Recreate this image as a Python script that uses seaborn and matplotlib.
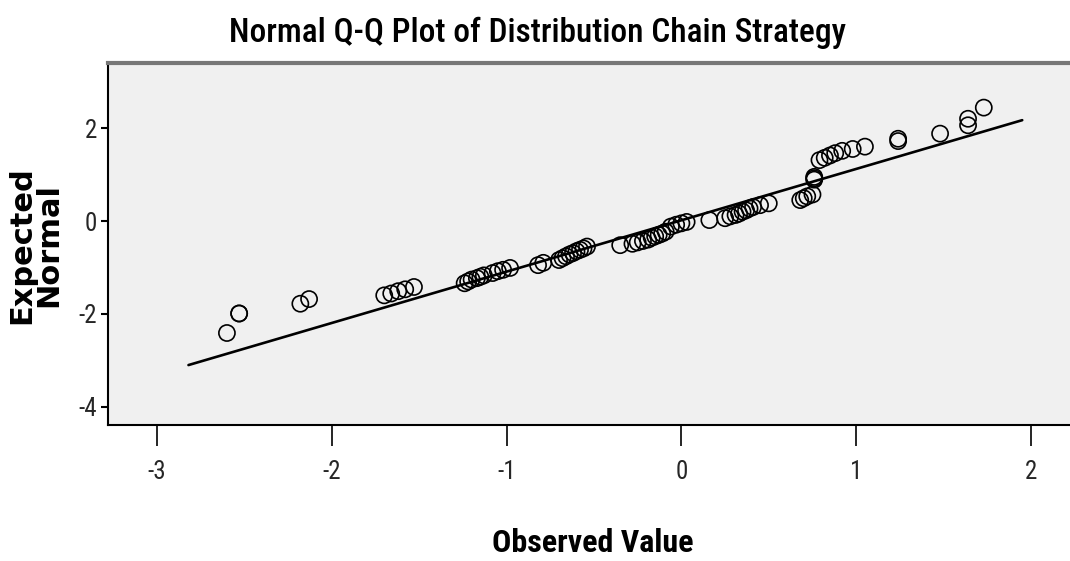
import numpy as np
import pandas as pd
import matplotlib
matplotlib.use("Agg")
import matplotlib.pyplot as plt
from matplotlib import font_manager
import seaborn as sns

# Observed (standardised) values and their expected normal scores
observed = [
    -2.60, -2.53, -2.53, -2.18, -2.13,
    -1.70, -1.66, -1.62, -1.58, -1.53,
    -1.24, -1.22, -1.20, -1.17, -1.15, -1.13,
    -1.08, -1.05, -1.02, -0.98,
    -0.82, -0.79,
    -0.70, -0.68, -0.66, -0.64, -0.62, -0.60, -0.58, -0.56, -0.54,
    -0.35, -0.28, -0.25, -0.22,
    -0.19, -0.17, -0.15, -0.13, -0.11, -0.09,
    -0.06, -0.03, 0.00, 0.03,
    0.16,
    0.25, 0.28, 0.31, 0.33, 0.35, 0.37, 0.39, 0.41, 0.45, 0.50,
    0.68, 0.70, 0.72, 0.75,
    0.76, 0.76, 0.76,
    0.79, 0.82, 0.85, 0.88, 0.92, 0.98, 1.05,
    1.24, 1.24,
    1.48,
    1.64, 1.64,
    1.73,
]
expected = [
    -2.41, -1.99, -1.99, -1.78, -1.68,
    -1.60, -1.56, -1.51, -1.47, -1.42,
    -1.34, -1.30, -1.26, -1.23, -1.20, -1.17,
    -1.12, -1.08, -1.05, -1.01,
    -0.95, -0.90,
    -0.84, -0.80, -0.76, -0.72, -0.69, -0.65, -0.62, -0.59, -0.55,
    -0.52, -0.49, -0.46, -0.43,
    -0.40, -0.36, -0.33, -0.30, -0.27, -0.23,
    -0.12, -0.08, -0.05, -0.02,
    0.02,
    0.06, 0.10, 0.13, 0.16, 0.20, 0.23, 0.27, 0.30, 0.34, 0.38,
    0.45, 0.49, 0.53, 0.57,
    0.89, 0.92, 0.95,
    1.31, 1.36, 1.41, 1.46, 1.51, 1.55, 1.60,
    1.72, 1.77,
    1.88,
    2.06, 2.20,
    2.44,
]

# Reference line of the fitted normal distribution
ref_x = [-2.82, 1.95]
ref_y = [-3.10, 2.17]

x_ticks = [-3, -2, -1, 0, 1, 2]
x_tick_labels = ["-3", "-2", "-1", "0", "1", "2"]
y_ticks = [-4, -2, 0, 2]
y_tick_labels = ["-4", "-2", "0", "2"]

title = "Normal Q-Q Plot of Distribution Chain Strategy"
x_label = "Observed Value"
y_label = "Expected\nNormal"

sns.set_theme(style="ticks")
plt.rcParams["axes.unicode_minus"] = False

available = {f.name for f in font_manager.fontManager.ttflist}
narrow = next((f for f in ["Liberation Sans Narrow", "DejaVu Sans Condensed",
                           "Roboto Condensed", "Liberation Sans"] if f in available),
              "DejaVu Sans")
plt.rcParams["font.family"] = [narrow, "DejaVu Sans"]

fig = plt.figure(figsize=(10.7, 5.61), dpi=100)
ax = fig.add_axes([0.101, 0.2424, 0.905, 0.6453])
ax.set_facecolor("#f0f0f0")

df = pd.DataFrame({"observed": observed, "expected": expected})
sns.lineplot(x=ref_x, y=ref_y, ax=ax, color="black", linewidth=1.9, zorder=2)
sns.scatterplot(data=df, x="observed", y="expected", ax=ax, marker="o",
                s=135, facecolor="none", edgecolor="black", linewidth=1.2,
                zorder=3)

ax.set_xlim(-3.28, 2.26)
ax.set_ylim(-4.39, 3.40)
ax.set_xticks(x_ticks)
ax.set_xticklabels(x_tick_labels)
ax.set_yticks(y_ticks)
ax.set_yticklabels(y_tick_labels)
ax.tick_params(axis="x", length=15, width=1.2, pad=10, labelsize=18,
               color="black")
ax.tick_params(axis="y", length=5, width=1.5, pad=3, labelsize=18,
               color="black")
ax.set_xlabel("")
ax.set_ylabel("")

for side in ["left", "bottom"]:
    ax.spines[side].set_color("black")
    ax.spines[side].set_linewidth(1.5)
ax.spines["right"].set_visible(False)
ax.spines["top"].set_color("#777777")
ax.spines["top"].set_linewidth(3.0)

fig.text(0.502, 0.941, title, ha="center", va="center", fontsize=24,
         fontweight="medium", color="black")
fig.text(0.554, 0.032, x_label, ha="center", va="center", fontsize=23,
         fontweight="bold", color="black")
fig.text(0.033, 0.563, y_label, ha="center", va="center", rotation=90,
         fontsize=22, fontweight="bold", color="black",
         family=["DejaVu Sans"], linespacing=0.95)

fig.savefig("out.png", dpi=100, facecolor="white")
